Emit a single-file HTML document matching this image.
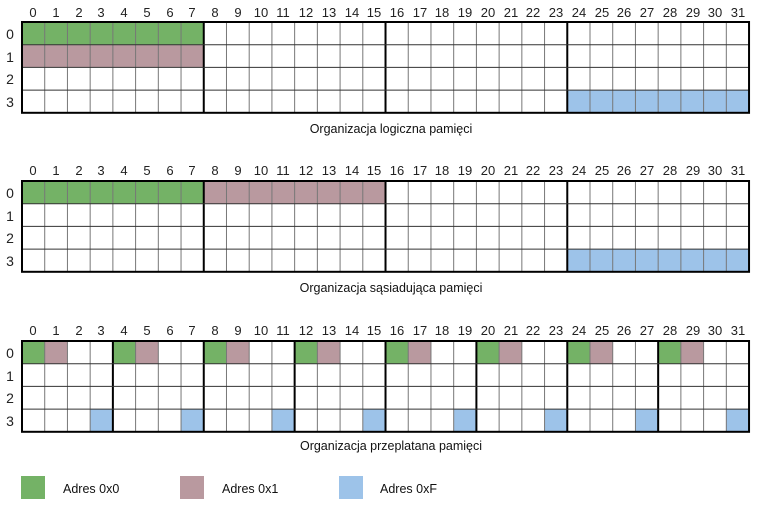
<!DOCTYPE html>
<html><head><meta charset="utf-8"><style>
html,body{margin:0;padding:0;background:#fff;}
svg{display:block;font-family:"Liberation Sans",sans-serif;}
.n{font-size:13px;fill:#222;text-anchor:middle;}
.r{font-size:14px;fill:#222;text-anchor:middle;}
.c{font-size:12.5px;fill:#111;text-anchor:middle;}
.l{font-size:12.5px;fill:#111;}
</style></head><body>
<svg id="s" width="770" height="521" viewBox="0 0 770 521">
<g id="shapes"></g>
<g class="n">
<text x="33" y="17">0</text><text x="56" y="17">1</text><text x="79" y="17">2</text><text x="101" y="17">3</text><text x="124" y="17">4</text><text x="147" y="17">5</text><text x="170" y="17">6</text><text x="192" y="17">7</text><text x="215" y="17">8</text><text x="238" y="17">9</text><text x="261" y="17">10</text><text x="283" y="17">11</text><text x="306" y="17">12</text><text x="329" y="17">13</text><text x="352" y="17">14</text><text x="374" y="17">15</text><text x="397" y="17">16</text><text x="420" y="17">17</text><text x="442" y="17">18</text><text x="465" y="17">19</text><text x="488" y="17">20</text><text x="511" y="17">21</text><text x="533" y="17">22</text><text x="556" y="17">23</text><text x="579" y="17">24</text><text x="602" y="17">25</text><text x="624" y="17">26</text><text x="647" y="17">27</text><text x="670" y="17">28</text><text x="693" y="17">29</text><text x="715" y="17">30</text><text x="738" y="17">31</text>
</g>
<g class="r"><text x="10" y="39">0</text><text x="10" y="62">1</text><text x="10" y="84">2</text><text x="10" y="107">3</text></g>
<g class="n">
<text x="33" y="175">0</text><text x="56" y="175">1</text><text x="79" y="175">2</text><text x="101" y="175">3</text><text x="124" y="175">4</text><text x="147" y="175">5</text><text x="170" y="175">6</text><text x="192" y="175">7</text><text x="215" y="175">8</text><text x="238" y="175">9</text><text x="261" y="175">10</text><text x="283" y="175">11</text><text x="306" y="175">12</text><text x="329" y="175">13</text><text x="352" y="175">14</text><text x="374" y="175">15</text><text x="397" y="175">16</text><text x="420" y="175">17</text><text x="442" y="175">18</text><text x="465" y="175">19</text><text x="488" y="175">20</text><text x="511" y="175">21</text><text x="533" y="175">22</text><text x="556" y="175">23</text><text x="579" y="175">24</text><text x="602" y="175">25</text><text x="624" y="175">26</text><text x="647" y="175">27</text><text x="670" y="175">28</text><text x="693" y="175">29</text><text x="715" y="175">30</text><text x="738" y="175">31</text>
</g>
<g class="r"><text x="10" y="198">0</text><text x="10" y="221">1</text><text x="10" y="243">2</text><text x="10" y="266">3</text></g>
<g class="n">
<text x="33" y="335">0</text><text x="56" y="335">1</text><text x="79" y="335">2</text><text x="101" y="335">3</text><text x="124" y="335">4</text><text x="147" y="335">5</text><text x="170" y="335">6</text><text x="192" y="335">7</text><text x="215" y="335">8</text><text x="238" y="335">9</text><text x="261" y="335">10</text><text x="283" y="335">11</text><text x="306" y="335">12</text><text x="329" y="335">13</text><text x="352" y="335">14</text><text x="374" y="335">15</text><text x="397" y="335">16</text><text x="420" y="335">17</text><text x="442" y="335">18</text><text x="465" y="335">19</text><text x="488" y="335">20</text><text x="511" y="335">21</text><text x="533" y="335">22</text><text x="556" y="335">23</text><text x="579" y="335">24</text><text x="602" y="335">25</text><text x="624" y="335">26</text><text x="647" y="335">27</text><text x="670" y="335">28</text><text x="693" y="335">29</text><text x="715" y="335">30</text><text x="738" y="335">31</text>
</g>
<g class="r"><text x="10" y="358">0</text><text x="10" y="381">1</text><text x="10" y="403">2</text><text x="10" y="426">3</text></g>
<text class="c" x="391" y="133">Organizacja logiczna pamięci</text>
<text class="c" x="391" y="292">Organizacja sąsiadująca pamięci</text>
<text class="c" x="391" y="450">Organizacja przeplatana pamięci</text>
<rect x="21" y="476" width="24" height="23" fill="#74b266"/>
<rect x="180" y="476" width="24" height="23" fill="#b9999f"/>
<rect x="339" y="476" width="24" height="23" fill="#9dc3e9"/>
<text class="l" x="63" y="493">Adres 0x0</text>
<text class="l" x="222" y="493">Adres 0x1</text>
<text class="l" x="380" y="493">Adres 0xF</text>
</svg>
<script>
var NS="http://www.w3.org/2000/svg",g=document.getElementById("shapes");
var X0=22,W=22.72,H=22.7,G="#74b266",M="#b9999f",B="#9dc3e9";
function el(t,a){var e=document.createElementNS(NS,t);for(var k in a)e.setAttribute(k,a[k]);g.appendChild(e);}
function grid(y0,fill,group){
 for(var r=0;r<4;r++)for(var c=0;c<32;c++){var f=fill(r,c);if(f)el("rect",{x:X0+c*W,y:y0+r*H,width:W,height:H,fill:f});}
 for(var c=1;c<32;c++){var heavy=c%group==0;el("line",{x1:X0+c*W,x2:X0+c*W,y1:y0,y2:y0+4*H,stroke:heavy?"#000":"#777","stroke-width":heavy?2:1});}
 for(var r=1;r<4;r++)el("line",{x1:X0,x2:X0+32*W,y1:y0+r*H,y2:y0+r*H,stroke:"#333","stroke-width":1});
 el("rect",{x:X0,y:y0,width:32*W,height:4*H,fill:"none",stroke:"#000","stroke-width":2});
}
grid(22,function(r,c){if(r==0&&c<8)return G;if(r==1&&c<8)return M;if(r==3&&c>=24)return B;},8);
grid(181,function(r,c){if(r==0&&c<8)return G;if(r==0&&c<16)return M;if(r==3&&c>=24)return B;},8);
grid(341,function(r,c){if(r==0&&c%4==0)return G;if(r==0&&c%4==1)return M;if(r==3&&c%4==3)return B;},4);
</script>
</body></html>
